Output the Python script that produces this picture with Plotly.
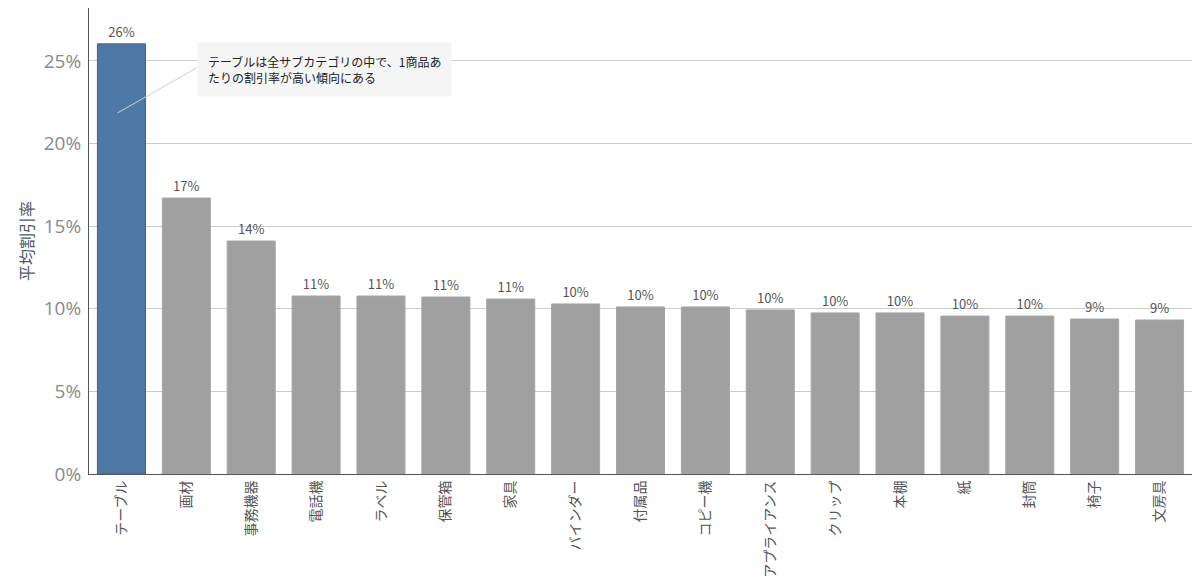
import plotly.graph_objects as go

categories = ["テーブル", "画材", "事務機器", "電話機", "ラベル", "保管箱", "家具", "バインダー",
              "付属品", "コピー機", "アプライアンス", "クリップ", "本棚", "紙", "封筒", "椅子", "文房具"]
discount = [0.2603, 0.167, 0.141, 0.1077, 0.1077, 0.1071, 0.1059, 0.1029,
            0.1011, 0.1011, 0.0993, 0.0975, 0.0975, 0.0956, 0.0956, 0.0938, 0.0932]
highlight = "テーブル"
note = "テーブルは全サブカテゴリの中で、1商品あ<br>たりの割引率が高い傾向にある"

colors = ["#4e79a7" if c == highlight else "#a0a0a0" for c in categories]
edges = ["#2d64a8" if c == highlight else "#a6a6a6" for c in categories]
labels = [f"{round(v * 100):.0f}%" for v in discount]

font_family = "Noto Sans CJK JP, Noto Sans, sans-serif"

fig = go.Figure(go.Bar(
    x=categories, y=discount,
    marker=dict(color=colors, line=dict(color=edges, width=1)),
    text=labels, textposition="outside", cliponaxis=False,
    textfont=dict(size=13, color="#555555", family=font_family),
    hoverinfo="skip",
))

fig.update_layout(
    width=1184, height=571,
    margin=dict(l=81, r=0, t=0, b=105, autoexpand=False),
    plot_bgcolor="white", paper_bgcolor="white",
    bargap=0.26, showlegend=False,
    font=dict(family=font_family),
)
fig.update_xaxes(
    type="category", showline=True, linecolor="#555555", linewidth=1,
    tickangle=-90, tickfont=dict(size=14, color="#555555", family=font_family),
    ticks="", showgrid=False, range=[-0.5, len(categories) - 0.5], automargin=False,
)
fig.update_yaxes(
    range=[0, 0.282], tickvals=[0, 0.05, 0.10, 0.15, 0.20, 0.25], tickformat=".0%",
    showline=True, linecolor="#555555", linewidth=1,
    showgrid=True, gridcolor="#cccccc", gridwidth=1, zeroline=False,
    tickfont=dict(size=19, color="#8a8a8a", family="Open Sans, sans-serif"),
    ticks="", ticklabelstandoff=3, automargin=False,
    title=dict(text="平均割引率", font=dict(size=16, color="#4f5868", family=font_family), standoff=6),
)

fig.add_shape(type="line", xref="x", yref="y",
              x0=-0.06, y0=0.2185, x1=1.16, y1=0.2458,
              line=dict(color="#d0d0d0", width=1))
fig.add_annotation(
    xref="x", yref="y", x=1.17, y=0.2615, xanchor="left", yanchor="top",
    text=note, showarrow=False, align="left",
    font=dict(size=12, color="#222222", family=font_family),
    bgcolor="#f5f5f5", borderpad=10,
)

fig.write_html("out.html")
